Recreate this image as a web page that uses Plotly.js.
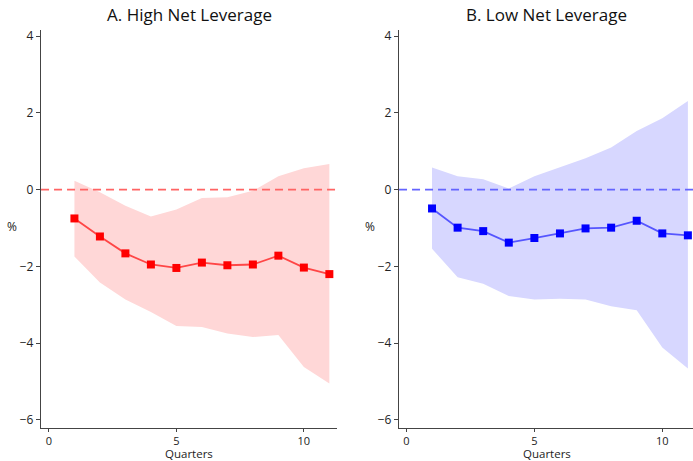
<!DOCTYPE html>
<html>
<head>
<meta charset="utf-8">
<script src="https://cdn.plot.ly/plotly-3.0.1.min.js"></script>
<style>html,body{margin:0;padding:0;background:#fff;}#chart{width:693px;height:461px;}</style>
</head>
<body>
<div id="chart"></div>
<script>
var quarters = [1, 2, 3, 4, 5, 6, 7, 8, 9, 10, 11];

var highEst   = [-0.75, -1.22, -1.66, -1.95, -2.04, -1.90, -1.97, -1.95, -1.72, -2.03, -2.20];
var highUpper = [0.23, -0.07, -0.42, -0.70, -0.52, -0.22, -0.20, -0.03, 0.35, 0.56, 0.67];
var highLower = [-1.74, -2.42, -2.86, -3.19, -3.55, -3.58, -3.75, -3.84, -3.79, -4.62, -5.05];

var lowEst   = [-0.49, -0.99, -1.08, -1.38, -1.26, -1.14, -1.01, -0.99, -0.81, -1.14, -1.19];
var lowUpper = [0.58, 0.35, 0.27, 0.03, 0.35, 0.58, 0.82, 1.10, 1.53, 1.86, 2.31];
var lowLower = [-1.54, -2.28, -2.45, -2.77, -2.86, -2.84, -2.86, -3.04, -3.14, -4.11, -4.66];

var panelTitles = ["A. High Net Leverage", "B. Low Net Leverage"];
var xTitle = "Quarters";
var yTitle = "%";
var xTicks = [0, 5, 10];
var yTicks = [-6, -4, -2, 0, 2, 4];

var FONT = "Open Sans, Noto Sans, sans-serif";

function band(up, lo, xa, ya, fillc) {
  return [
    {x: quarters, y: up, xaxis: xa, yaxis: ya, mode: 'lines', line: {width: 0, color: fillc}, hoverinfo: 'skip', showlegend: false},
    {x: quarters, y: lo, xaxis: xa, yaxis: ya, mode: 'lines', line: {width: 0, color: fillc}, fill: 'tonexty', fillcolor: fillc, hoverinfo: 'skip', showlegend: false}
  ];
}
function est(vals, xa, ya, lc, mc) {
  return {x: quarters, y: vals, xaxis: xa, yaxis: ya, mode: 'lines+markers',
    line: {color: lc, width: 1.8}, marker: {symbol: 'square', size: 8, color: mc}, showlegend: false};
}

var data = [].concat(
  band(highUpper, highLower, 'x', 'y', 'rgb(255,215,215)'),
  [est(highEst, 'x', 'y', 'rgb(255,70,70)', '#ff0000')],
  band(lowUpper, lowLower, 'x2', 'y2', 'rgb(215,215,255)'),
  [est(lowEst, 'x2', 'y2', 'rgb(85,85,255)', '#0000ff')]
);

function xax(dom, rng, anchor) {
  return {domain: dom, range: rng, anchor: anchor, tickvals: xTicks, ticks: 'outside', ticklen: 3, tickwidth: 1,
    tickcolor: '#444', showline: true, linecolor: '#444', linewidth: 1.2, showgrid: false, zeroline: false,
    tickfont: {family: FONT, size: 11, color: '#222'}};
}
function yax(rng, anchor) {
  return {domain: [0, 1], range: rng, anchor: anchor, tickvals: yTicks, ticks: 'outside', ticklen: 4, tickwidth: 1,
    tickcolor: '#444', showline: true, linecolor: '#444', linewidth: 1.2, showgrid: false, zeroline: false,
    tickfont: {family: FONT, size: 12, color: '#222'}};
}

var layout = {
  width: 693, height: 461,
  margin: {l: 0, r: 0, t: 30, b: 33},
  paper_bgcolor: '#fff', plot_bgcolor: '#fff',
  showlegend: false,
  font: {family: FONT, color: '#222'},
  xaxis: xax([0.0592, 0.4863], [-0.31, 11.3], 'y'),
  yaxis: yax([-6.21, 4.16], 'x'),
  xaxis2: xax([0.5758, 1.0], [-0.29, 11.2], 'y2'),
  yaxis2: yax([-6.21, 4.16], 'x2'),
  shapes: [
    {type: 'line', xref: 'x domain', yref: 'y', x0: 0, x1: 1, y0: 0, y1: 0, line: {color: 'rgb(255,100,100)', width: 1.8, dash: '8px,5px'}},
    {type: 'line', xref: 'x2 domain', yref: 'y2', x0: 0, x1: 1, y0: 0, y1: 0, line: {color: 'rgb(100,100,255)', width: 1.8, dash: '8px,5px'}}
  ],
  annotations: [
    {text: panelTitles[0], xref: 'paper', yref: 'paper', x: 0.2728, y: 1.0377, xanchor: 'center', yanchor: 'middle', showarrow: false, font: {family: FONT, size: 17, color: '#111'}},
    {text: panelTitles[1], xref: 'paper', yref: 'paper', x: 0.7890, y: 1.0377, xanchor: 'center', yanchor: 'middle', showarrow: false, font: {family: FONT, size: 17, color: '#111'}},
    {text: xTitle, xref: 'paper', yref: 'paper', x: 0.2728, y: -0.0653, xanchor: 'center', yanchor: 'middle', showarrow: false, font: {family: FONT, size: 11.5, color: '#222'}},
    {text: xTitle, xref: 'paper', yref: 'paper', x: 0.7890, y: -0.0653, xanchor: 'center', yanchor: 'middle', showarrow: false, font: {family: FONT, size: 11.5, color: '#222'}},
    {text: yTitle, xref: 'paper', yref: 'paper', x: 0.0173, y: 0.5075, xanchor: 'center', yanchor: 'middle', showarrow: false, font: {family: FONT, size: 12, color: '#222'}},
    {text: yTitle, xref: 'paper', yref: 'paper', x: 0.5339, y: 0.5075, xanchor: 'center', yanchor: 'middle', showarrow: false, font: {family: FONT, size: 12, color: '#222'}}
  ]
};

Plotly.newPlot('chart', data, layout, {staticPlot: true, displayModeBar: false});
</script>
</body>
</html>
